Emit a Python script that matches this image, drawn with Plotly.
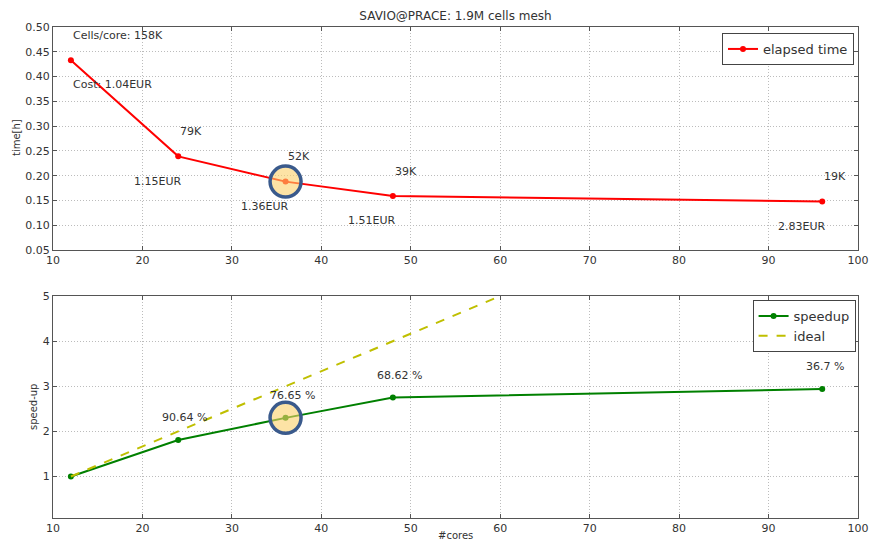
import plotly.graph_objects as go

# ---- data ----
cores = [12, 24, 36, 48, 96]
time_h = [0.433, 0.239, 0.188, 0.159, 0.148]
speedup = [1.0, 1.81, 2.30, 2.75, 2.94]
ideal = [1, 2, 3, 4, 8]
cells_labels = ["Cells/core: 158K", "79K", "52K", "39K", "19K"]
cost_labels = ["Cost: 1.04EUR", "1.15EUR", "1.36EUR", "1.51EUR", "2.83EUR"]
eff_labels = ["", "90.64 %", "76.65 %", "68.62 %", "36.7 %"]
highlight_cores = 36

FONT = "DejaVu Sans"
TXT = "#333333"

fig = go.Figure()

hi = cores.index(highlight_cores)

# top: elapsed time
fig.add_trace(go.Scatter(x=cores, y=time_h, mode="lines+markers", name="elapsed time",
                         line=dict(color="red", width=2), marker=dict(color="red", size=6),
                         xaxis="x", yaxis="y", legend="legend"))
fig.add_trace(go.Scatter(x=[cores[hi]], y=[time_h[hi]], mode="markers", showlegend=False,
                         marker=dict(size=31, color="rgba(252,208,105,0.6)",
                                     line=dict(color="#3a5a8c", width=3.5)),
                         xaxis="x", yaxis="y", hoverinfo="skip"))

# bottom: speedup
fig.add_trace(go.Scatter(x=cores, y=speedup, mode="lines+markers", name="speedup",
                         line=dict(color="green", width=2), marker=dict(color="green", size=6),
                         xaxis="x2", yaxis="y2", legend="legend2"))
fig.add_trace(go.Scatter(x=cores, y=ideal, mode="lines", name="ideal",
                         line=dict(color="#bfbf00", width=2, dash="dash"),
                         xaxis="x2", yaxis="y2", legend="legend2"))
fig.add_trace(go.Scatter(x=[cores[hi]], y=[speedup[hi]], mode="markers", showlegend=False,
                         marker=dict(size=31, color="rgba(252,208,105,0.6)",
                                     line=dict(color="#3a5a8c", width=3.5)),
                         xaxis="x2", yaxis="y2", hoverinfo="skip"))

ann = []
for i, c in enumerate(cores):
    ann.append(dict(x=c, y=time_h[i] + 0.05, xref="x", yref="y", text=cells_labels[i],
                    showarrow=False, xanchor="left", yanchor="middle"))
    ann.append(dict(x=c if i == 0 else c - 5.2, y=time_h[i] - 0.05, xref="x", yref="y",
                    text=cost_labels[i], showarrow=False, xanchor="left", yanchor="middle"))
    if eff_labels[i]:
        ann.append(dict(x=c - 2, y=speedup[i] + 0.5, xref="x2", yref="y2", text=eff_labels[i],
                        showarrow=False, xanchor="left", yanchor="middle"))

ann.append(dict(x=-0.0447, y=0.774, xref="paper", yref="paper", text="time[h]", textangle=-90,
                showarrow=False, xanchor="center", yanchor="middle", font=dict(size=10)))
ann.append(dict(x=-0.0248, y=0.226, xref="paper", yref="paper", text="speed-up", textangle=-90,
                showarrow=False, xanchor="center", yanchor="middle", font=dict(size=10)))
ann.append(dict(x=0.5, y=0, xref="paper", yref="paper", text="#cores", showarrow=False,
                xanchor="center", yanchor="top", yshift=-10, font=dict(size=10)))

axis_common = dict(showgrid=True, gridcolor="#bcbcbc", griddash="1px,2px", gridwidth=1,
                   showline=True, linecolor="#555555", linewidth=1.3, mirror="ticks",
                   ticks="inside", ticklen=4, tickcolor="#555555", zeroline=False,
                   ticklabeloverflow="allow",
                   tickfont=dict(size=11, color=TXT, family=FONT))

fig.update_layout(
    width=869, height=542,
    margin=dict(l=53, r=11, t=27, b=24, autoexpand=False),
    paper_bgcolor="white", plot_bgcolor="white",
    font=dict(family=FONT, size=11, color=TXT),
    title=dict(text="SAVIO@PRACE: 1.9M cells mesh", x=0.5, xref="paper", xanchor="center",
               y=1 - 16 / 542, yanchor="middle", font=dict(size=12, color=TXT)),
    xaxis=dict(domain=[0, 1], anchor="y", range=[10, 100], dtick=10, tick0=10, **axis_common),
    yaxis=dict(domain=[0.5458, 1], anchor="x", range=[0.05, 0.5], dtick=0.05, tick0=0.05,
               tickformat=".2f", **axis_common),
    xaxis2=dict(domain=[0, 1], anchor="y2", range=[10, 100], dtick=10, tick0=10, **axis_common),
    yaxis2=dict(domain=[0, 0.452], anchor="x2", range=[0.08, 5], tickvals=[1, 2, 3, 4, 5],
                **axis_common),
    legend=dict(x=0.995, y=0.9878, xanchor="right", yanchor="top", bgcolor="white",
                bordercolor="#444444", borderwidth=1, font=dict(size=13, color=TXT)),
    legend2=dict(x=0.997, y=0.444, xanchor="right", yanchor="top", bgcolor="white",
                 bordercolor="#444444", borderwidth=1, font=dict(size=13, color=TXT),
                 tracegroupgap=0),
    annotations=ann,
    showlegend=True,
)

fig.write_html("out.html", config={"displayModeBar": False},
               post_script="document.body.style.margin='0';document.body.style.overflow='hidden';")
